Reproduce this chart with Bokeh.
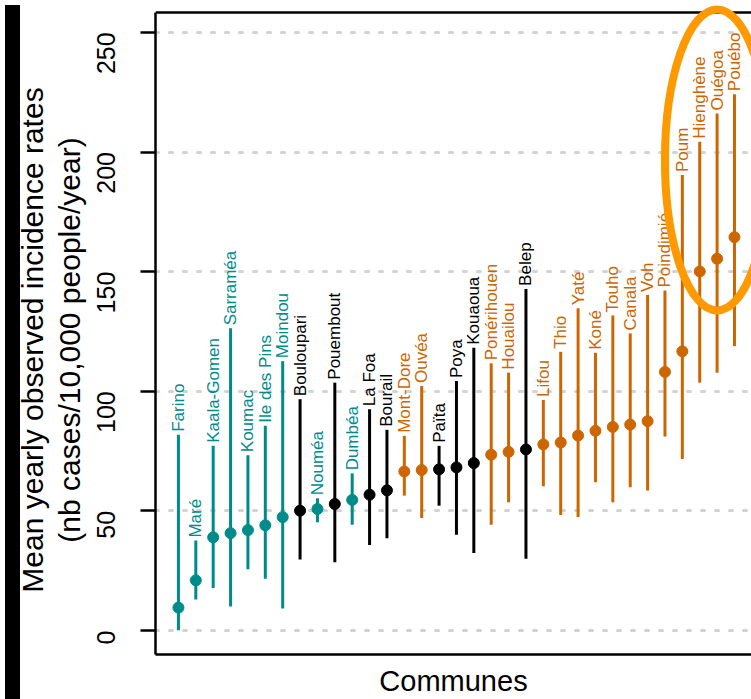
import math
from bokeh.plotting import figure
from bokeh.models import Range1d, FixedTicker, Div
from bokeh.layouts import row
from bokeh.embed import file_html
from bokeh.resources import INLINE
from bokeh.core.properties import value

# ---------------- data ----------------
communes = ["Farino", "Maré", "Kaala-Gomen", "Sarraméa", "Koumac", "Ile des Pins",
            "Moindou", "Bouloupari", "Nouméa", "Pouembout", "Dumbéa", "La Foa",
            "Bourail", "Mont-Dore", "Ouvéa", "Païta", "Poya", "Kouaoua",
            "Ponérihouen", "Houailou", "Belep", "Lifou", "Thio", "Yaté", "Koné",
            "Touho", "Canala", "Voh", "Poindimié", "Poum", "Hienghène", "Ouégoa",
            "Pouébo"]
rate = [9.6, 21.0, 39.0, 40.7, 42.0, 44.0, 47.4, 50.1, 50.8, 52.9, 54.6, 56.8,
        58.6, 66.5, 67.1, 67.4, 68.2, 70.0, 73.5, 74.7, 75.7, 77.8, 78.6, 81.5,
        83.5, 85.1, 86.1, 87.5, 108.1, 116.7, 150.1, 155.4, 164.4]
lower = [0.1, 13.0, 17.8, 10.1, 25.6, 21.7, 9.2, 29.7, 45.3, 28.6, 44.2, 35.8,
         38.6, 56.4, 47.0, 52.2, 40.1, 32.4, 44.2, 53.6, 30.0, 60.3, 48.3, 47.5,
         62.0, 53.6, 59.9, 58.5, 81.1, 71.7, 103.6, 107.8, 118.9]
upper = [81.8, 37.6, 77.2, 126.3, 73.3, 85.6, 112.6, 96.7, 55.3, 103.6, 65.7, 92.5,
         83.9, 81.4, 102.2, 77.2, 104.3, 118.2, 111.7, 107.8, 142.8, 96.4, 116.5,
         134.7, 116.1, 131.7, 124.2, 140.3, 142.1, 190.4, 204.3, 216.1, 224.2]
group = ["A", "A", "A", "A", "A", "A", "A", "B", "A", "B", "A", "B", "B", "C", "C",
         "B", "B", "B", "C", "C", "B", "C", "C", "C", "C", "C", "C", "C", "C", "C",
         "C", "C", "C"]
y_ticks = [0, 50, 100, 150, 200, 250]
y_title = ["Mean yearly observed incidence rates", "(nb cases/10,000 people/year)"]
highlighted = ["Hienghène", "Ouégoa", "Pouébo"]
highlight_y = 196.7        # centre of the highlight ellipse (data units)
highlight_h = 125.8        # height of the ellipse (data units)
highlight_w = 6.0          # width of the ellipse (communes)

group_color = {"A": "#008B8B", "B": "#000000", "C": "#CD6600"}
FONT = "Liberation Sans"

idx = list(range(len(communes)))
colors = [group_color[g] for g in group]

X_RANGE = (-1.32, 32.98)
Y_RANGE = (-10, 263.33)
FRAME_TOP = 258.33

p = figure(width=751, height=699, output_backend="svg", toolbar_location=None,
           x_range=Range1d(*X_RANGE), y_range=Range1d(*Y_RANGE),
           min_border_left=155, min_border_right=0, min_border_top=0,
           min_border_bottom=43)
p.outline_line_color = None
p.background_fill_color = "white"
p.border_fill_color = "white"

# grid
p.xgrid.visible = False
p.ygrid.ticker = FixedTicker(ticks=y_ticks)
p.ygrid.grid_line_color = "#D3D3D3"
p.ygrid.grid_line_width = 3
p.ygrid.grid_line_dash = "3 11"
p.ygrid.grid_line_cap = "round"

# y axis
ya = p.yaxis[0]
ya.ticker = FixedTicker(ticks=y_ticks)
ya.bounds = (Y_RANGE[0], FRAME_TOP)
ya.axis_line_width = 2.5
ya.axis_line_color = "black"
ya.major_tick_line_width = 2.5
ya.major_tick_out = 15
ya.major_tick_in = 0
ya.minor_tick_line_color = None
ya.major_label_orientation = math.pi / 2
ya.major_label_text_font = FONT
ya.major_label_text_font_size = "25px"
ya.major_label_text_color = "black"
ya.major_label_standoff = 34
# trailing spaces nudge the (centred) rotated title slightly downwards
ya.axis_label = "\n".join(t + "   " for t in y_title)
ya.axis_label_text_font = FONT
ya.axis_label_text_font_size = "30px"
ya.axis_label_text_font_style = "normal"
ya.axis_label_text_color = "black"
ya.axis_label_text_line_height = 1.1
ya.axis_label_standoff = 0

# x axis
xa = p.xaxis[0]
xa.ticker = FixedTicker(ticks=[])
xa.axis_line_width = 2.5
xa.axis_line_color = "black"
xa.major_tick_out = 0
xa.major_tick_in = 0
xa.minor_tick_line_color = None
xa.major_label_standoff = 0
xa.major_label_text_font_size = "0px"
xa.axis_label = "Communes"
xa.axis_label_text_font = FONT
xa.axis_label_text_font_size = "29px"
xa.axis_label_text_font_style = "normal"
xa.axis_label_text_color = "black"
xa.axis_label_standoff = 10

# top frame line
p.hspan(y=[FRAME_TOP], line_color="black", line_width=2.5)

# intervals, points, labels
p.segment(x0=idx, y0=lower, x1=idx, y1=upper, line_color=colors, line_width=3)
p.scatter(x=idx, y=rate, size=11, fill_color=colors, line_color=colors)
p.text(x=idx, y=upper, text=communes, angle=math.pi / 2, text_align="left",
       text_baseline="middle", text_font=value(FONT), text_font_size="17px",
       text_color=colors, y_offset=-3)

# highlight ellipse
hx = sum(communes.index(c) for c in highlighted) / len(highlighted)
p.ellipse(x=[hx], y=[highlight_y], width=highlight_w, height=highlight_h,
          fill_color=None, line_color="#FF9900", line_width=8)

# black strip along the left edge of the picture (kept out of the layout flow)
strip = Div(width=15, height=699,
            styles={"position": "fixed", "left": "0px", "top": "0px",
                    "z-index": "10", "background-color": "black"})
layout = row(strip, p)

open("out.html", "w").write(file_html(layout, INLINE))
